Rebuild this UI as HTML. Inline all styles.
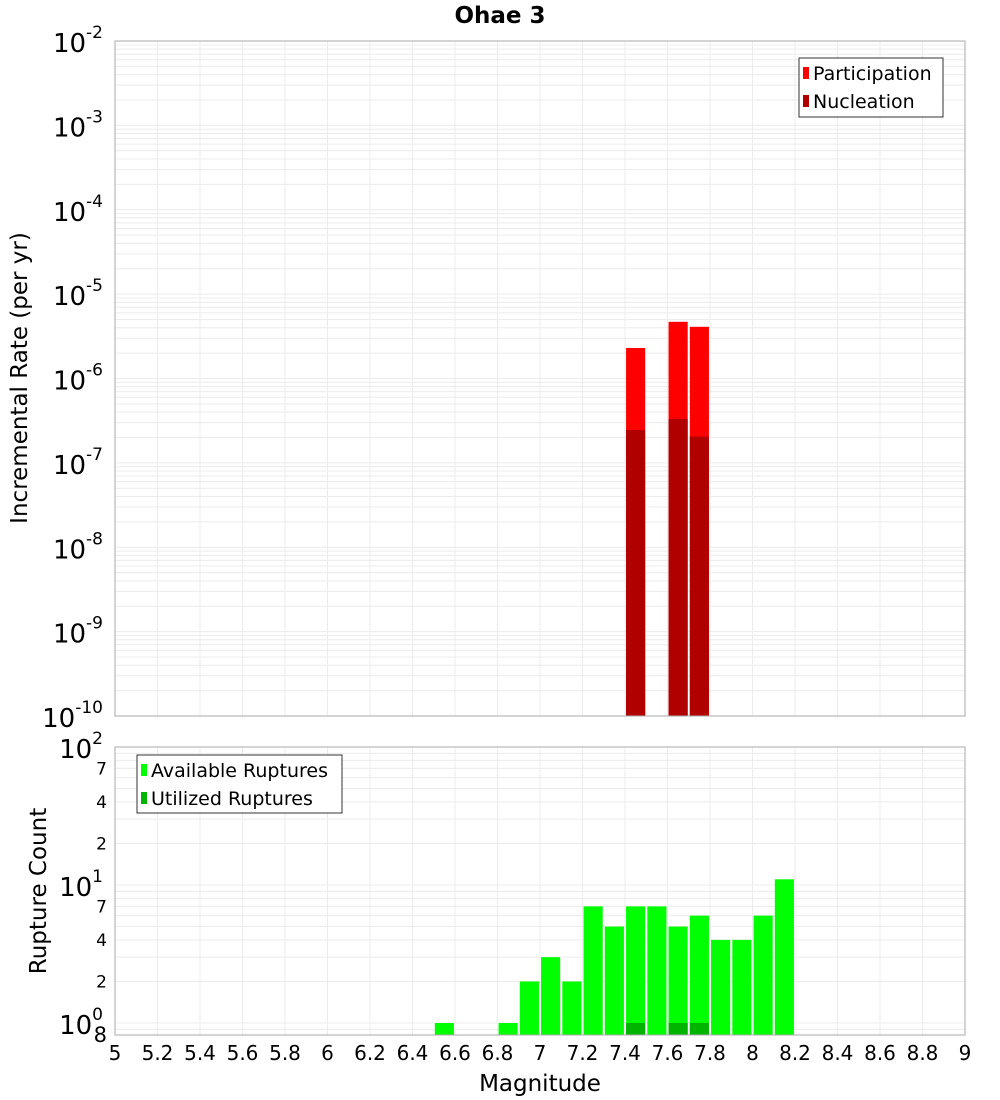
<!DOCTYPE html>
<html><head><meta charset="utf-8"><style>
body{margin:0;background:#fff;}
svg{font-family:"DejaVu Sans","Liberation Sans",sans-serif;display:block}
</style></head><body>
<svg id="c" width="1000" height="1100"></svg>
<script>
const magBins=[7.45,7.65,7.75];
const partRates=[2.3e-6,4.7e-6,4.1e-6];
const nuclRates=[2.45e-7,3.3e-7,2.05e-7];
const availMags=[6.55,6.85,6.95,7.05,7.15,7.25,7.35,7.45,7.55,7.65,7.75,7.85,7.95,8.05,8.15];
const availCounts=[1,1,2,3,2,7,5,7,7,5,6,4,4,6,11];
const usedMags=[7.45,7.65,7.75];
const usedCounts=[1,1,1];
const xTicks=[5,5.2,5.4,5.6,5.8,6,6.2,6.4,6.6,6.8,7,7.2,7.4,7.6,7.8,8,8.2,8.4,8.6,8.8,9];
const topExps=[-2,-3,-4,-5,-6,-7,-8,-9,-10];
const botMinor=[7,4,2];

const svg=document.getElementById('c');const NS='http://www.w3.org/2000/svg';
function el(t,a,txt){const e=document.createElementNS(NS,t);for(const k in a)e.setAttribute(k,a[k]);if(txt!=null)e.textContent=txt;svg.appendChild(e);return e;}
const L=115,R=965,T1=41,B1=716,T2=747,B2=1035;
const x=m=>L+(m-5)*(R-L)/4;
const y1=v=>T1+(-2-Math.log10(v))*(B1-T1)/8;
const y2=v=>1023-Math.log10(v)*138;
el('rect',{x:L,y:T1,width:R-L,height:B1-T1,fill:'#fff',stroke:'none'});
for(let e=-10;e<-2;e++)for(let k=1;k<10;k++){const yy=y1(k*Math.pow(10,e));const g=el('line',{x1:L,x2:R,y1:yy,y2:yy,stroke:'#ececec','stroke-width':1});}
xTicks.forEach(m=>{el('line',{x1:x(m),x2:x(m),y1:T1,y2:B1,stroke:'#ececec'});el('line',{x1:x(m),x2:x(m),y1:T2,y2:B2,stroke:'#ececec'});});
for(let e=-1;e<2;e++)for(let k=1;k<10;k++){const v=k*Math.pow(10,e);const yy=y2(v);if(yy<T2||yy>B2)continue;el('line',{x1:L,x2:R,y1:yy,y2:yy,stroke:'#ececec'});}
const bw=(R-L)/40*0.9;
magBins.forEach((m,i)=>{
 const b=el('rect',{x:x(m)-bw/2,y:y1(partRates[i]),width:bw,height:B1-y1(partRates[i]),fill:'#ff0000'});
 
 const n=el('rect',{x:x(m)-bw/2,y:y1(nuclRates[i]),width:bw,height:B1-y1(nuclRates[i]),fill:'#b00000'});
 
});
availMags.forEach((m,i)=>{const yy=y2(availCounts[i]);const b=el('rect',{x:x(m)-bw/2,y:yy,width:bw,height:B2-yy,fill:'#00ff00'});
 });
usedMags.forEach((m,i)=>{const yy=y2(usedCounts[i]);const b=el('rect',{x:x(m)-bw/2,y:yy,width:bw,height:B2-yy,fill:'#00b400'});
 });
el('rect',{x:L,y:T1,width:R-L,height:B1-T1,fill:'none',stroke:'#aaa'});
el('rect',{x:L,y:T2,width:R-L,height:B2-T2,fill:'none',stroke:'#aaa'});
const t=el('text',{x:500,y:23,'text-anchor':'middle','font-size':23,'font-weight':'bold'},'Ohae 3');
topExps.forEach(e=>{const yy=y1(Math.pow(10,e));const g=el('text',{x:103,y:yy+11,'text-anchor':'end','font-size':26});
 
 g.innerHTML='10<tspan dy="-14" font-size="17">'+e+'</tspan>';});
[[0,1],[1,10],[2,100]].forEach(([e,v])=>{const yy=y2(v);const g=el('text',{x:103,y:yy+11,'text-anchor':'end','font-size':26});
 
 g.innerHTML='10<tspan dy="-14" font-size="17">'+e+'</tspan>';});
[1,10].forEach(d=>botMinor.forEach(k=>{const g=el('text',{x:107,y:y2(k*d)+6,'text-anchor':'end','font-size':17},String(k));}));
el('text',{x:107,y:1042,'text-anchor':'end','font-size':21},'8');
xTicks.forEach(m=>{const g=el('text',{x:x(m),y:1060,'text-anchor':'middle','font-size':20},String(m));});
el('text',{x:540,y:1091,'text-anchor':'middle','font-size':23},'Magnitude');
el('text',{x:0,y:0,'text-anchor':'middle','font-size':23,transform:'translate(27,378) rotate(-90)'},'Incremental Rate (per yr)');
el('text',{x:0,y:0,'text-anchor':'middle','font-size':23,transform:'translate(46,891) rotate(-90)'},'Rupture Count');
const lg1=el('rect',{x:799,y:58,width:144,height:59,fill:'#fff',stroke:'#333'});
el('rect',{x:803,y:67,width:6,height:12,fill:'#ff0000'});el('text',{x:813,y:80,'font-size':19},'Participation');
el('rect',{x:803,y:95,width:6,height:12,fill:'#b00000'});el('text',{x:813,y:108,'font-size':19},'Nucleation');
const lg2=el('rect',{x:137,y:755,width:205,height:58,fill:'#fff',stroke:'#333'});
el('rect',{x:141,y:764,width:6,height:12,fill:'#00ff00'});el('text',{x:151,y:777,'font-size':19},'Available Ruptures');
el('rect',{x:141,y:792,width:6,height:12,fill:'#00b400'});el('text',{x:151,y:805,'font-size':19},'Utilized Ruptures');
</script>
</body></html>
